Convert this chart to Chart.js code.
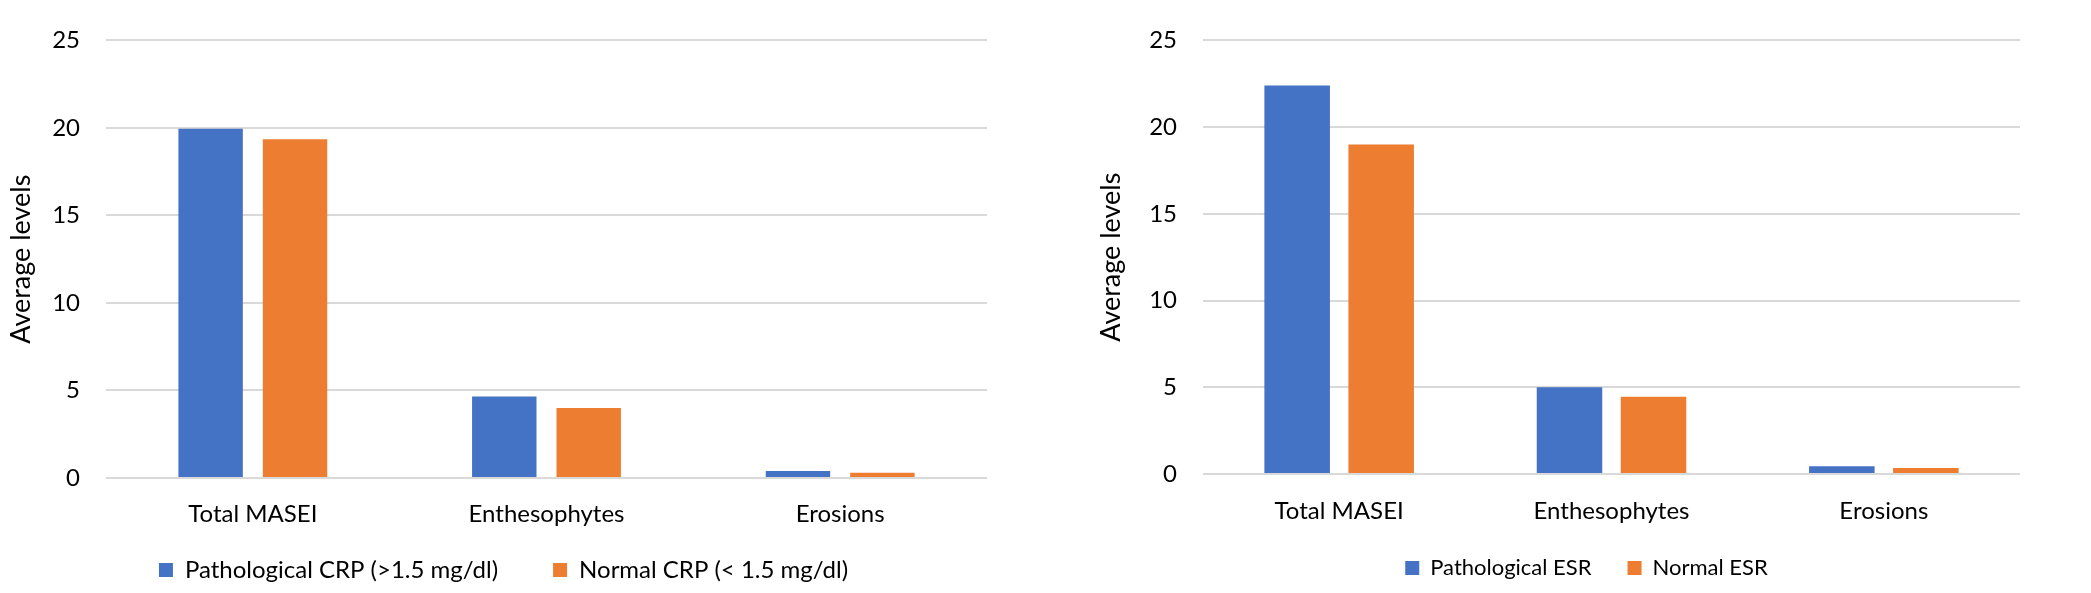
<!DOCTYPE html>
<html><head><meta charset="utf-8">
<script src="https://cdn.jsdelivr.net/npm/chart.js@4.4.1/dist/chart.umd.min.js"></script>
<style>
html,body{margin:0;padding:0;background:#fff;}
body{width:2091px;height:593px;overflow:hidden;position:relative;}
.c{position:absolute;top:0;height:593px;}
</style></head>
<body>
<div class="c" style="left:0;width:1003px"><canvas id="c1" width="1003" height="593"></canvas></div>
<div class="c" style="left:1065px;width:1026px"><canvas id="c2" width="1026" height="593"></canvas></div>
<script>
const categories = ['Total MASEI', 'Enthesophytes', 'Erosions'];
const crpPathological = [19.95, 4.65, 0.4];
const crpNormal = [19.35, 4.0, 0.3];
const esrPathological = [22.4, 5.0, 0.45];
const esrNormal = [19.0, 4.45, 0.35];
const crpLegend = ['Pathological CRP (>1.5 mg/dl)', 'Normal CRP (< 1.5 mg/dl)'];
const esrLegend = ['Pathological ESR', 'Normal ESR'];
const yAxisTitle = 'Average levels';
const yMin = 0, yMax = 25, yStep = 5;

const BLUE = '#4472C4', ORANGE = '#ED7D31';
const FONT = 'Lato';
const TXT = '#000';

// moves the legend box after layout (legend spacing and position)
const legendShift = {
  id: 'legendShift',
  afterLayout(chart, args, opts) {
    const l = chart.legend;
    if (!l) return;
    l.top += opts.dy || 0; l.bottom += opts.dy || 0;
    l.left += opts.dx || 0; l.right += opts.dx || 0;
  }
};

function makeChart(id, names, a, b, o) {
  return new Chart(document.getElementById(id), {
    type: 'bar',
    plugins: [legendShift],
    data: {
      labels: categories,
      datasets: [
        {label: names[0], data: a, backgroundColor: BLUE, borderWidth: 0,
         categoryPercentage: o.cat, barPercentage: o.bar},
        {label: names[1], data: b, backgroundColor: ORANGE, borderWidth: 0,
         categoryPercentage: o.cat, barPercentage: o.bar}
      ]
    },
    options: {
      responsive: false,
      animation: false,
      devicePixelRatio: 1,
      layout: {padding: o.pad},
      plugins: {
        tooltip: {enabled: false},
        legendShift: {dx: o.dx, dy: o.dy},
        legend: {
          position: 'bottom',
          labels: {
            boxWidth: 14, boxHeight: 14, padding: o.legPad,
            color: TXT, font: {family: FONT, size: o.legFont}
          }
        }
      },
      scales: {
        x: {
          grid: {display: false, drawTicks: false},
          border: {display: false},
          ticks: {color: TXT, font: {family: FONT, size: 24}, padding: o.xPad},
          afterFit: s => { s.height = o.xH; }
        },
        y: {
          min: yMin, max: yMax,
          grid: {color: '#d9d9d9', lineWidth: 2, drawTicks: false},
          border: {display: false},
          ticks: {stepSize: yStep, color: TXT, font: {family: FONT, size: 24}, padding: 26},
          title: {display: true, text: yAxisTitle, color: TXT,
                  font: {family: FONT, size: 27}, padding: {top: o.tPad, bottom: 0}},
          afterFit: s => { s.width = o.yW; }
        }
      }
    }
  });
}

makeChart('c1', crpLegend, crpPathological, crpNormal,
  {cat: 0.575, bar: 0.763, pad: {top: 19, right: 16, bottom: -26, left: 0},
   legPad: 55, legFont: 24, dx: 10, dy: -27, xH: 52, xPad: 22, yW: 106, tPad: 5});
makeChart('c2', esrLegend, esrPathological, esrNormal,
  {cat: 0.617, bar: 0.78, pad: {top: 19, right: 71, bottom: -1, left: 0},
   legPad: 36, legFont: 22, dx: 44, dy: -5, xH: 52, xPad: 23, yW: 138, tPad: 30});
</script>
</body></html>
